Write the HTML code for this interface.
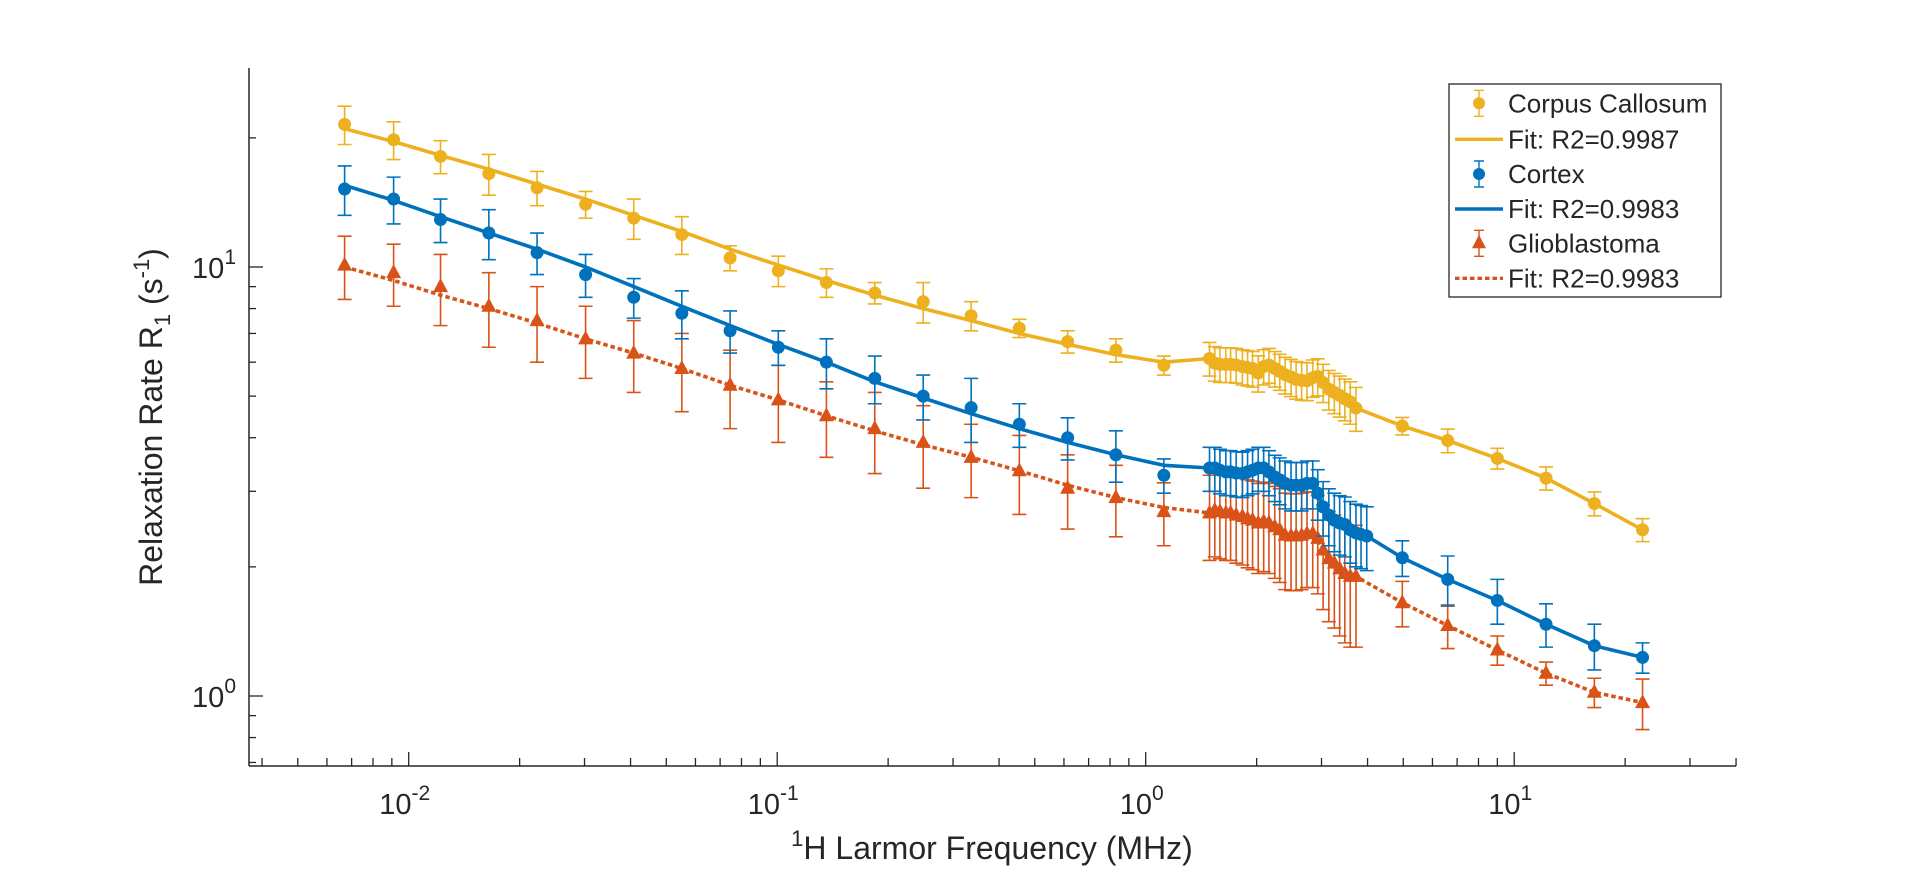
<!DOCTYPE html>
<html><head><meta charset="utf-8"><style>
html,body{margin:0;padding:0;background:#fff;width:1920px;height:879px;overflow:hidden}
svg text{font-family:"Liberation Sans",Arial,sans-serif;fill:#262626}
</style></head><body>
<svg id="chart" width="1920" height="879" viewBox="0 0 1920 879" xmlns="http://www.w3.org/2000/svg">
<g id="axes"></g>
<g id="series"></g>
<text transform="translate(162,417) rotate(-90)" text-anchor="middle" font-size="32">Relaxation Rate R<tspan font-size="22" dy="8">1</tspan><tspan dy="-8"> (s</tspan><tspan font-size="22" dy="-13">-1</tspan><tspan dy="13">)</tspan></text>
<text x="992" y="859" text-anchor="middle" font-size="32"><tspan font-size="22" dy="-13">1</tspan><tspan dy="13">H Larmor Frequency (MHz)</tspan></text>
<g>
<rect x="1449" y="84" width="272" height="213" fill="#fff" stroke="#262626" stroke-width="1.3"/>
<g id="legend-items"></g>
</g>
</svg>
<script>
// ---- data ----
const freqBase = [0.0067,0.0091,0.0122,0.0165,0.0223,0.0302,0.0408,0.0551,0.0745,0.1007,0.136,0.184,0.249,0.336,0.454,0.614,0.83,1.12];
const freqDense = [1.49,1.54,1.59,1.65,1.70,1.76,1.83,1.89,1.95,2.02,2.09,2.16,2.24,2.31,2.39,2.48,2.56,2.65,2.74,2.84,2.93,3.03,3.14,3.25,3.36,3.47,3.59,3.72,3.84,3.98];
const freqHigh = [4.97,6.6,9.0,12.2,16.5,22.3];

const ccBase = [21.5,19.8,18.1,16.5,15.3,14.0,13.0,11.9,10.5,9.8,9.2,8.7,8.3,7.7,7.2,6.7,6.4,5.9];
const ccFitBase = [21.0,19.6,18.2,16.9,15.6,14.4,13.2,12.1,11.0,10.1,9.3,8.6,8.0,7.5,7.0,6.6,6.25,6.0];
const ccDense = [6.12,5.97,5.93,5.93,5.93,5.91,5.86,5.83,5.80,5.66,5.86,5.91,5.80,5.71,5.61,5.54,5.47,5.44,5.43,5.52,5.56,5.38,5.19,5.10,5.02,4.93,4.85,4.69];
const ccHigh = [4.26,3.94,3.58,3.22,2.81,2.44];
const ccErrBase = [2.2,2.0,1.6,1.8,1.4,1.0,1.4,1.2,0.7,0.8,0.7,0.5,0.9,0.6,0.35,0.4,0.4,0.3];
const ccErrDense = [0.55,0.55,0.55,0.55,0.55,0.55,0.55,0.55,0.55,0.55,0.55,0.55,0.55,0.55,0.55,0.55,0.55,0.55,0.55,0.55,0.55,0.55,0.55,0.55,0.55,0.55,0.55,0.55];
const ccErrHigh = [0.2,0.25,0.2,0.2,0.18,0.15];

const cxBase = [15.2,14.4,12.9,12.0,10.8,9.6,8.5,7.8,7.1,6.5,6.0,5.5,5.0,4.7,4.3,4.0,3.65,3.27];
const cxFitBase = [15.5,14.3,13.1,12.0,11.0,10.0,9.0,8.1,7.3,6.6,6.0,5.4,4.95,4.55,4.2,3.9,3.65,3.45];
const cxDense = [3.40,3.40,3.36,3.33,3.33,3.31,3.30,3.33,3.36,3.40,3.40,3.33,3.24,3.19,3.13,3.10,3.10,3.10,3.13,3.13,2.97,2.76,2.64,2.57,2.53,2.51,2.44,2.40,2.38,2.36];
const cxHigh = [2.10,1.87,1.67,1.47,1.31,1.23];
const cxErrBase = [2.0,1.8,1.5,1.6,1.2,1.1,0.9,1.0,0.8,0.6,0.8,0.7,0.6,0.8,0.5,0.45,0.5,0.3];
const cxErrDense = [0.4,0.4,0.4,0.4,0.4,0.4,0.4,0.4,0.4,0.4,0.4,0.4,0.4,0.4,0.4,0.4,0.4,0.4,0.4,0.4,0.4,0.4,0.4,0.4,0.4,0.4,0.4,0.4,0.4,0.4];
const cxErrHigh = [0.2,0.25,0.2,0.17,0.16,0.1];

const gbBase = [10.1,9.7,9.0,8.1,7.5,6.8,6.3,5.8,5.3,4.9,4.5,4.2,3.9,3.6,3.35,3.05,2.9,2.69];
const gbFitBase = [10.0,9.3,8.6,8.0,7.4,6.8,6.3,5.8,5.3,4.9,4.5,4.15,3.85,3.6,3.35,3.1,2.9,2.75];
const gbDense = [2.67,2.71,2.69,2.67,2.67,2.64,2.62,2.59,2.57,2.53,2.55,2.53,2.48,2.44,2.37,2.36,2.36,2.37,2.39,2.39,2.33,2.19,2.09,2.04,1.98,1.93,1.90,1.90];
const gbHigh = [1.65,1.46,1.28,1.13,1.02,0.965];
const gbErrBase = [1.7,1.6,1.7,1.6,1.5,1.3,1.2,1.2,1.1,1.0,0.9,0.9,0.85,0.7,0.7,0.6,0.55,0.45];
const gbErrDense = [0.6,0.6,0.6,0.6,0.6,0.6,0.6,0.6,0.6,0.6,0.6,0.6,0.6,0.6,0.6,0.6,0.6,0.6,0.6,0.6,0.6,0.6,0.6,0.6,0.6,0.6,0.6,0.6];
const gbErrHigh = [0.2,0.17,0.1,0.07,0.08,0.13];

const xTickLabels = ["-2","-1","0","1"];
const yTickLabels = ["0","1"];

// ---- axes ----
const NS = "http://www.w3.org/2000/svg";
const X0 = 249, X1 = 1736, Y0 = 68, Y1 = 766;
const xDec = 368.5, x10m2 = 408.7, yDec = 429, y1 = 696;
function sx(f){ return x10m2 + (Math.log10(f) + 2) * xDec; }
function sy(v){ return y1 - Math.log10(v) * yDec; }
function mk(tag, attrs, parent){ const e = document.createElementNS(NS, tag); for (const k in attrs) e.setAttribute(k, attrs[k]); parent.appendChild(e); return e; }

const axes = document.getElementById('axes');
let l = mk('line', {x1:X0,y1:Y0,x2:X0,y2:Y1,stroke:'#262626','stroke-width':1.5}, axes);


l = mk('line', {x1:X0,y1:Y1,x2:X1,y2:Y1,stroke:'#262626','stroke-width':1.5}, axes);



for (let d = -3; d <= 1; d++) {
  for (let m = 1; m <= 9; m++) {
    const f = m * Math.pow(10, d);
    const x = sx(f);
    if (x < X0 - 0.5 || x > X1 + 0.5) continue;
    const len = m === 1 ? 14 : 8;
    const t = mk('line', {x1:x,y1:Y1,x2:x,y2:Y1-len,stroke:'#262626','stroke-width':1.3}, axes);
    
    
  }
}
xTickLabels.forEach(function(s){
  const x = sx(Math.pow(10, +s));
  const t = mk('text', {x:x-4, y:814, 'text-anchor':'middle','font-size':29}, axes);
  
  
  t.innerHTML = '10<tspan font-size="21" dy="-14">' + s + '</tspan>';
});
for (let d = -1; d <= 1; d++) {
  for (let m = 1; m <= 9; m++) {
    const v = m * Math.pow(10, d);
    const y = sy(v);
    if (y < Y0 - 0.5 || y > Y1 + 0.5) continue;
    const len = m === 1 ? 14 : 7;
    const t = mk('line', {x1:X0,y1:y,x2:X0+len,y2:y,stroke:'#262626','stroke-width':1.3}, axes);
    
    
  }
}
yTickLabels.forEach(function(s){
  const y = sy(Math.pow(10, +s));
  const t = mk('text', {x:236, y:y+11, 'text-anchor':'end','font-size':29}, axes);
  
  
  t.innerHTML = '10<tspan font-size="21" dy="-14">' + s + '</tspan>';
});

// ---- series ----
const seriesG = document.getElementById('series');
const yellow = '#EDB120', blue = '#0072BD', orange = '#D95319';
function drawSeries(name, color, fr, vals, errs, fitVals, marker, dashed) {
  const g = mk('g', {}, seriesG);
  
  
  fr.forEach(function(f,i){
    const x = sx(f), yt = sy(vals[i] + errs[i]), yb = sy(Math.max(vals[i] - errs[i], 0.01));
    const eb = mk('path', {d:'M'+x+' '+yt+'V'+yb+'M'+(x-7)+' '+yt+'H'+(x+7)+'M'+(x-7)+' '+yb+'H'+(x+7), stroke:color, 'stroke-width':1.6, fill:'none'}, g);
    
    
  });
  const pts = fr.map(function(f,i){ return sx(f).toFixed(1) + ',' + sy(fitVals[i]).toFixed(1); }).join(' ');
  const fit = mk('polyline', {points:pts, fill:'none', stroke:color, 'stroke-width':3.6, 'stroke-linejoin':'round'}, g);
  if (dashed) fit.setAttribute('stroke-dasharray', '4.5 3');
  
  
  fr.forEach(function(f,i){
    const x = sx(f), yc = sy(vals[i]);
    let m;
    if (marker === 'tri') {
      m = mk('path', {d:'M'+x+' '+(yc-8.5)+'L'+(x+7.5)+' '+(yc+5.5)+'L'+(x-7.5)+' '+(yc+5.5)+'Z', fill:color}, g);
    } else {
      m = mk('circle', {cx:x, cy:yc, r:6.5, fill:color}, g);
    }
    
    
  });
}
drawSeries('corpus-callosum', yellow, freqBase.concat(freqDense.slice(0,28), freqHigh), ccBase.concat(ccDense, ccHigh), ccErrBase.concat(ccErrDense, ccErrHigh), ccFitBase.concat(ccDense, ccHigh), 'circle', false);
drawSeries('glioblastoma', orange, freqBase.concat(freqDense.slice(0,28), freqHigh), gbBase.concat(gbDense, gbHigh), gbErrBase.concat(gbErrDense, gbErrHigh), gbFitBase.concat(gbDense, gbHigh), 'tri', true);
drawSeries('cortex', blue, freqBase.concat(freqDense, freqHigh), cxBase.concat(cxDense, cxHigh), cxErrBase.concat(cxErrDense, cxErrHigh), cxFitBase.concat(cxDense, cxHigh), 'circle', false);

// ---- legend ----
const lg = document.getElementById('legend-items');
const legendLabels = ['Corpus Callosum','Fit: R2=0.9987','Cortex','Fit: R2=0.9983','Glioblastoma','Fit: R2=0.9983'];
const legendRows = [103.3,139.3,174,209,243.3,278.3];
legendLabels.forEach(function(s,i){
  const y = legendRows[i];
  const color = i < 2 ? yellow : (i < 4 ? blue : orange);
  const g = mk('g', {}, lg);
  
  
  if (i % 2 === 0) {
    const x = 1479;
    mk('path', {d:'M'+x+' '+(y-13)+'V'+(y+13)+'M'+(x-5)+' '+(y-13)+'H'+(x+5)+'M'+(x-5)+' '+(y+13)+'H'+(x+5), stroke:color,'stroke-width':1.4,fill:'none'}, g);
    if (i === 4) mk('path', {d:'M'+x+' '+(y-8.5)+'L'+(x+7)+' '+(y+5)+'L'+(x-7)+' '+(y+5)+'Z', fill:color}, g);
    else mk('circle', {cx:x, cy:y, r:6, fill:color}, g);
  } else {
    const ln = mk('line', {x1:1455,y1:y,x2:1503,y2:y,stroke:color,'stroke-width':3.4}, g);
    if (i === 5) ln.setAttribute('stroke-dasharray','4.5 3');
  }
  const t = mk('text', {x:1508, y:y+9, 'font-size':26}, g);
  t.textContent = s;
  t.setAttribute('fill', '#000');
});
</script>
</body></html>
